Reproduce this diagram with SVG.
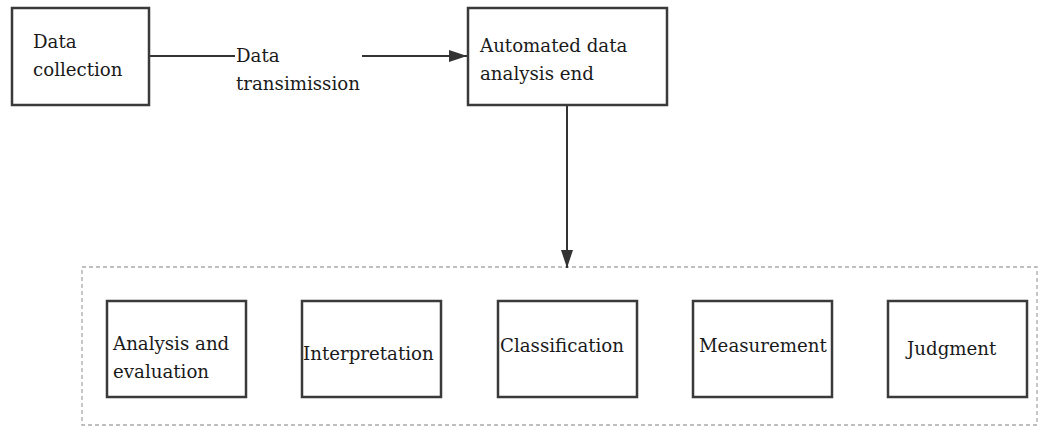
<svg xmlns="http://www.w3.org/2000/svg" width="1041" height="430" viewBox="0 0 1041 430">
<style>
.box{fill:#fff;stroke:#3a3a3a;stroke-width:2.5}
.lbl{font-family:"DejaVu Serif","Liberation Serif",serif;font-size:18.2px;fill:#1a1a1a}
.con{stroke:#333;stroke-width:2;fill:none}
.grp{fill:none;stroke:#aaa;stroke-width:1.3;stroke-dasharray:4 3}
</style>
<defs>
<marker id="arrL" markerWidth="18" markerHeight="12" refX="18" refY="6" orient="auto" markerUnits="userSpaceOnUse">
<path d="M0,0 L18,6 L0,12 Z" fill="#333"/>
</marker>
</defs>
<rect class="grp" x="82" y="267" width="955" height="158"/>
<g id="connectors">
<line class="con" x1="150" y1="56" x2="235" y2="56"/>
<line class="con" x1="362" y1="56" x2="467" y2="56" marker-end="url(#arrL)"/>
<line class="con" x1="567" y1="106" x2="567" y2="268" marker-end="url(#arrL)"/>
</g>
<g id="data-collection">
<rect class="box" x="12" y="8" width="137" height="97"/>
<text class="lbl" x="33" y="48">Data</text>
<text class="lbl" x="33" y="76">collection</text>
</g>
<g id="data-transmission">
<text class="lbl" x="236" y="62">Data</text>
<text class="lbl" x="236" y="90">transimission</text>
</g>
<g id="automated">
<rect class="box" x="468" y="8" width="199" height="97"/>
<text class="lbl" x="480" y="52">Automated data</text>
<text class="lbl" x="480" y="80">analysis end</text>
</g>
<g id="analysis">
<rect class="box" x="107" y="301" width="139" height="96"/>
<text class="lbl" x="113" y="350">Analysis and</text>
<text class="lbl" x="113" y="378">evaluation</text>
</g>
<g id="interpretation">
<rect class="box" x="302" y="301" width="139" height="96"/>
<text class="lbl" x="303" y="360">Interpretation</text>
</g>
<g id="classification">
<rect class="box" x="498" y="301" width="139" height="96"/>
<text class="lbl" x="500" y="352">Classification</text>
</g>
<g id="measurement">
<rect class="box" x="693" y="301" width="139" height="96"/>
<text class="lbl" x="699" y="352">Measurement</text>
</g>
<g id="judgment">
<rect class="box" x="888" y="301" width="139" height="96"/>
<text class="lbl" x="907" y="355">Judgment</text>
</g>
</svg>
